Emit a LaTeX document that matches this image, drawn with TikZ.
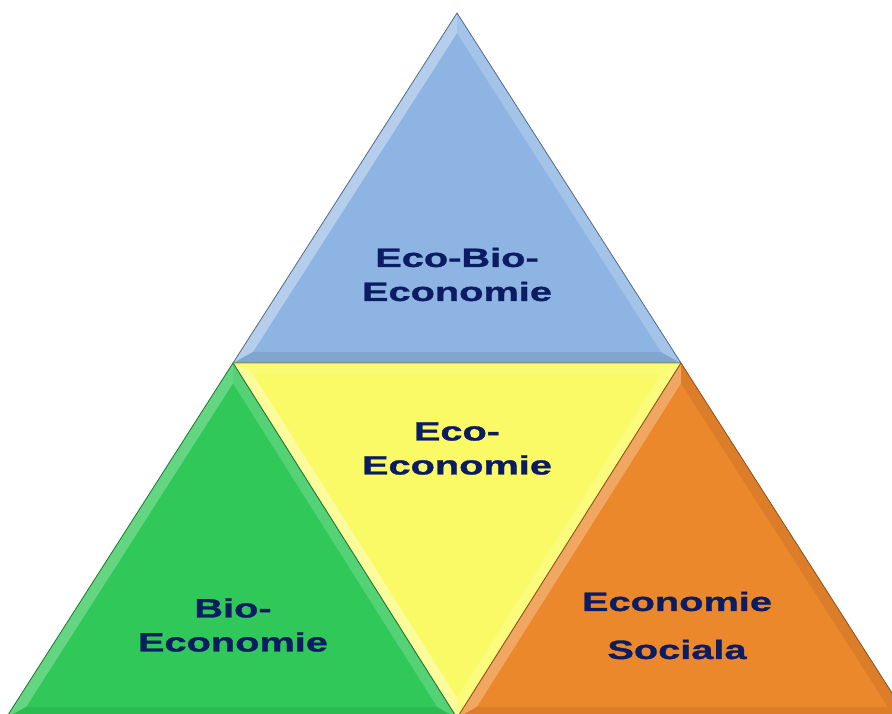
\documentclass[tikz,border=0pt]{standalone}
\usepackage{fontspec}
\newfontfamily\lblfont[FakeStretch=1.5,BoldFeatures={FakeBold=1.2}]{Liberation Sans}
\usetikzlibrary{calc}
\definecolor{triblue}{RGB}{141,180,226}
\definecolor{triyellow}{RGB}{250,250,102}
\definecolor{trigreen}{RGB}{48,200,88}
\definecolor{triorange}{RGB}{236,136,44}
\definecolor{txtnavy}{RGB}{12,28,98}
% #1,#2,#3 vertices; #4 incentre; #5 base colour; #6,#7,#8 facet colours of sides 1-2, 2-3, 3-1
\newcommand\mytri[8]{%
  \coordinate (#4a) at ($(#4)!0.91!(#1)$);
  \coordinate (#4b) at ($(#4)!0.91!(#2)$);
  \coordinate (#4c) at ($(#4)!0.91!(#3)$);
  \fill[#5] (#1)--(#2)--(#3)--cycle;
  \fill[#6] (#1)--(#2)--(#4b)--(#4a)--cycle;
  \fill[#7] (#2)--(#3)--(#4c)--(#4b)--cycle;
  \fill[#8] (#3)--(#1)--(#4a)--(#4c)--cycle;
  \fill[#5] (#4a)--(#4b)--(#4c)--cycle;
  \draw[#5!60!black, line width=0.8pt, line join=round] (#1)--(#2)--(#3)--cycle;
}
\tikzset{
  lbl/.style={font=\lblfont\bfseries\fontsize{26.5}{34}\selectfont, text=txtnavy, align=center, inner sep=0pt}
}
\begin{document}
\begin{tikzpicture}[x=1pt,y=-1pt]
\useasboundingbox (0,0) rectangle (892,713);
\clip (0,0) rectangle (892,713);
% vertices
\coordinate (A) at (457,13);
\coordinate (L) at (233,363);
\coordinate (R) at (681,363);
\coordinate (BL) at (6,718);
\coordinate (M) at (457,718);
\coordinate (BR) at (908,718);
% incentres
\coordinate (Iblue) at (457,240.4);
\coordinate (Iyel) at (457,487);
\coordinate (Igrn) at (233,593.5);
\coordinate (Iorg) at (681,593.5);
% triangles
\mytri{A}{L}{R}{Iblue}{triblue}{triblue!65!white}{triblue!92!black}{triblue!80!white}
\mytri{L}{R}{M}{Iyel}{triyellow}{triyellow!90!white}{triyellow!85!white}{triyellow!65!white}
\mytri{L}{BL}{M}{Igrn}{trigreen}{trigreen!75!white}{trigreen!93!black}{trigreen!82!white}
\mytri{R}{M}{BR}{Iorg}{triorange}{triorange!75!white}{triorange!93!black}{triorange!93!black}
% labels
\node[lbl] (tblue) at (457,274.5) {Eco-Bio-\\Economie};
\node[lbl] (tyel) at (457,448.5) {Eco-\\Economie};
\node[lbl] (tgrn) at (233,625) {Bio-\\Economie};
\node[lbl] (torg) at (677,625.5) {Economie\\[14pt]Sociala};
\end{tikzpicture}
\end{document}
